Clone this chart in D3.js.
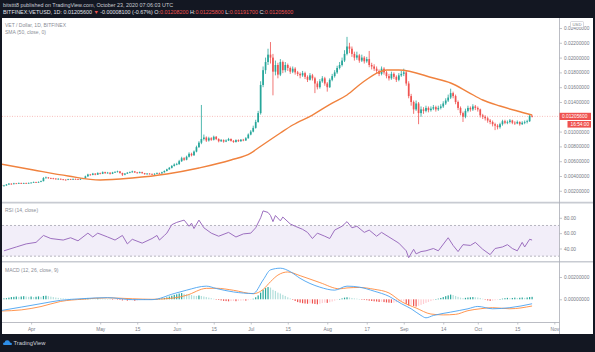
<!DOCTYPE html>
<html><head><meta charset="utf-8">
<script src="https://cdn.jsdelivr.net/npm/d3@7"></script>
<style>
html,body{margin:0;padding:0;background:#131722;}
svg{display:block;font-family:"Liberation Sans",Arial,sans-serif;}
</style></head><body>
<svg id="c" width="595" height="352"></svg>
<script>
// ---------- DATA (bar index 0 = first visible daily bar, 215 = Oct 23 2020) ----------
const firstOpen = 0.00280;
const lastOpen = 0.012082;
const closes = [
 .00265,.00272,.00285,.00296,.00290,.00300,.00298,.00305,.00298,.00303,
 .00300,.00306,.00310,.00318,.00312,.00320,.00330,.00372,.00380,.00372,
 .00368,.00365,.00358,.00362,.00355,.00350,.00348,.00356,.00352,.00360,
 .00358,.00352,.00362,.00368,.00395,.00420,.00415,.00432,.00418,.00440,
 .00430,.00452,.00438,.00445,.00430,.00448,.00455,.00462,.00440,.00418,
 .00432,.00445,.00450,.00462,.00448,.00440,.00452,.00438,.00425,.00432,
 .00428,.00420,.00430,.00440,.00435,.00450,.00468,.00490,.00510,.00535,
 .00555,.00560,.00600,.00640,.00620,.00660,.00700,.00680,.00730,.00790,
 .00850,.00900,.00920,.00880,.00910,.00890,.00930,.00900,.00870,.00885,
 .00865,.00880,.00900,.00875,.00860,.00885,.00870,.00890,.00880,.00910,
 .00960,.01000,.01050,.01130,.01250,.01630,.01830,.01940,.02040,.02000,
 .01810,.01900,.01770,.01940,.01830,.01900,.01860,.01810,.01850,.01800,
 .01780,.01760,.01790,.01740,.01700,.01760,.01720,.01650,.01600,.01680,
 .01720,.01650,.01600,.01700,.01750,.01800,.01860,.01900,.01960,.02050,
 .02150,.02120,.02050,.02000,.02030,.01960,.02000,.01950,.01980,.01900,
 .01880,.01850,.01820,.01780,.01850,.01800,.01750,.01720,.01780,.01740,
 .01700,.01760,.01780,.01800,.01650,.01480,.01400,.01300,.01380,.01250,
 .01300,.01280,.01320,.01290,.01310,.01330,.01300,.01320,.01340,.01380,
 .01420,.01460,.01520,.01480,.01400,.01320,.01250,.01200,.01280,.01320,
 .01300,.01340,.01320,.01300,.01220,.01200,.01180,.01150,.01130,.01100,
 .01080,.01060,.01100,.01140,.01120,.01130,.01150,.01120,.01110,.01130,
 .01100,.01120,.01130,.01140,.01214,.012056];
const highs = [
 .00290,.00280,.00292,.00305,.00302,.00308,.00306,.00312,.00310,.00309,
 .00310,.00312,.00316,.00325,.00322,.00326,.00338,.00385,.00392,.00386,
 .00378,.00375,.00370,.00370,.00366,.00360,.00356,.00362,.00362,.00366,
 .00366,.00362,.00368,.00375,.00405,.00430,.00428,.00442,.00438,.00450,
 .00446,.00462,.00458,.00455,.00450,.00456,.00465,.00472,.00468,.00445,
 .00440,.00452,.00460,.00472,.00468,.00455,.00460,.00458,.00442,.00440,
 .00438,.00434,.00436,.00448,.00446,.00458,.00476,.00498,.00522,.00548,
 .00570,.00578,.00618,.00660,.00655,.00675,.00720,.00715,.00745,.00810,
 .00870,.01360,.00960,.00935,.00930,.00925,.00945,.00940,.00910,.00900,
 .00895,.00895,.00915,.00908,.00885,.00895,.00895,.00900,.00902,.00925,
 .00975,.01020,.01080,.01160,.01280,.01680,.01880,.02000,.02120,.02210,
 .02050,.01960,.01930,.01980,.01960,.01940,.01920,.01880,.01880,.01870,
 .01820,.01800,.01820,.01810,.01760,.01790,.01780,.01740,.01680,.01710,
 .01750,.01740,.01670,.01720,.01780,.01830,.01890,.01940,.02000,.02100,
 .02280,.02200,.02150,.02080,.02080,.02050,.02040,.02020,.02010,.02090,
 .01930,.01910,.01880,.01840,.01880,.01870,.01820,.01780,.01810,.01800,
 .01760,.01790,.01820,.01850,.01820,.01680,.01510,.01420,.01420,.01400,
 .01340,.01330,.01350,.01340,.01340,.01360,.01350,.01350,.01370,.01410,
 .01450,.01500,.01580,.01540,.01500,.01420,.01340,.01270,.01310,.01350,
 .01340,.01370,.01360,.01340,.01310,.01240,.01220,.01200,.01170,.01150,
 .01120,.01100,.01120,.01160,.01160,.01150,.01170,.01160,.01140,.01150,
 .01140,.01140,.01150,.01160,.01230,.012258];
const lows = [
 .00255,.00258,.00268,.00280,.00282,.00286,.00292,.00293,.00292,.00294,
 .00295,.00296,.00302,.00306,.00306,.00308,.00316,.00328,.00365,.00362,
 .00358,.00356,.00350,.00352,.00348,.00342,.00340,.00344,.00346,.00348,
 .00352,.00346,.00348,.00358,.00365,.00390,.00405,.00410,.00410,.00414,
 .00422,.00426,.00430,.00432,.00420,.00426,.00442,.00448,.00432,.00400,
 .00410,.00428,.00438,.00446,.00442,.00432,.00436,.00432,.00418,.00420,
 .00420,.00414,.00416,.00426,.00428,.00432,.00446,.00462,.00484,.00502,
 .00528,.00545,.00552,.00590,.00605,.00612,.00650,.00665,.00672,.00720,
 .00780,.00830,.00880,.00860,.00865,.00875,.00880,.00885,.00855,.00860,
 .00850,.00858,.00872,.00865,.00848,.00852,.00860,.00862,.00870,.00875,
 .00905,.00950,.00990,.01040,.01120,.01230,.01600,.01780,.01900,.01920,
 .01490,.01760,.01720,.01750,.01790,.01800,.01820,.01780,.01790,.01770,
 .01750,.01720,.01740,.01710,.01670,.01690,.01690,.01520,.01570,.01580,
 .01660,.01620,.01540,.01590,.01680,.01730,.01780,.01840,.01880,.01940,
 .02030,.02060,.02010,.01960,.01970,.01930,.01940,.01920,.01930,.01870,
 .01840,.01820,.01790,.01750,.01760,.01770,.01720,.01690,.01700,.01710,
 .01670,.01680,.01740,.01750,.01620,.01450,.01350,.01240,.01280,.01100,
 .01200,.01240,.01260,.01260,.01270,.01290,.01270,.01280,.01300,.01320,
 .01360,.01400,.01440,.01450,.01370,.01290,.01220,.01130,.01180,.01260,
 .01270,.01280,.01290,.01270,.01190,.01170,.01150,.01120,.01100,.01070,
 .01020,.01030,.01040,.01080,.01100,.01100,.01110,.01100,.01090,.01100,
 .01080,.01090,.01100,.01110,.01130,.011917];

// SMA(50)
const smaBars   = [0,13,27,40,53,67,80,93,101,104,113,118,126,134,140,146,153,156,161,175,182,189,195,202,209,215];
const smaValues = [.00560,.00481,.00400,.00346,.00373,.00427,.00508,.00616,.00710,.00778,.00981,.01089,.01224,.01386,.01495,.01657,.01805,.01832,.01832,.01724,.01657,.01535,.01427,.01346,.01278,.01224];

// RSI(14)
const rsiBars = [1,6,10,14,17,20,25,28,31,35,37,39,43,46,49,51,53,57,61,63,64,66,67,69,71,74,76,77,78,80,82,85,88,92,95,98,101,103,105,106,108,109,110,111,113,114,117,119,122,124,126,128,131,133,135,138,140,142,144,147,149,152,154,157,159,161,164,165,167,168,170,172,175,177,181,183,185,187,190,192,195,198,200,203,205,207,209,211,212,214,215];
const rsiValues = [37,42,46,48,57,53,51,54,50,60,55,60,55,51,57,46,52,47,53,57,51,57,60,71,74,77,69,73,66,77,67,60,56,61,55,59,60,67,80,89,87,83,75,83,76,81,72,69,65,61,53,60,56,53,64,69,75,67,69,61,64,56,61,55,51,47,37,28,39,33,36,37,40,37,54,44,36,45,44,48,39,32,40,42,45,40,37,48,42,52,51];

// MACD(12,26,9)
const macdBars   = [0,8,16,24,33,43,53,61,70,75,83,87,94,102,106,109,113,117,121,129,135,140,145,151,157,162,166,170,172,175,182,189,193,199,206,215];
const macdValues = [-.00100,-.00070,-.00039,-.00009,.00006,.00015,-.00003,-.00003,.00052,.00082,.00118,.00097,.00066,.00052,.00173,.00264,.00279,.00248,.00188,.00109,.00082,.00118,.00109,.00073,.00027,-.00039,-.00085,-.00145,-.00166,-.00145,-.00115,-.00085,-.00064,-.00085,-.00075,-.00040];
const signalBars   = [0,8,16,24,33,43,53,61,70,75,83,87,94,102,106,109,112,116,121,129,137,140,145,151,157,162,168,174,179,184,189,194,199,206,215];
const signalValues = [-.00105,-.00095,-.00065,-.00019,.00001,.00013,.00005,.00000,.00012,.00036,.00098,.00099,.00081,.00050,.00088,.00158,.00217,.00245,.00212,.00150,.00094,.00102,.00106,.00090,.00057,-.00020,-.00078,-.00132,-.00140,-.00135,-.00102,-.00085,-.00075,-.00085,-.00060];
// histogram, one value per bar, in units of 1e-4
const histE4 = [
 0.5,0.8,1.0,1.5,2.0,2.2,2.5,2.2,2.5,2.8,
 2.5,2.2,2.5,2.0,2.3,2.6,2.2,3.0,3.2,2.8,
 2.4,2.0,1.6,1.3,1.0,0.8,0.6,0.5,0.4,0.3,
 0.2,0.1,0.3,0.5,0.9,1.2,1.0,0.9,0.7,0.8,
 0.6,0.5,0.3,0.2,0.0,-0.2,-0.1,-0.2,-0.6,-1.0,
 -0.8,-1.2,-1.0,-0.8,-1.3,-1.0,-0.7,-0.5,-0.6,-0.4,
 -0.5,-0.3,-0.2,0.2,0.4,0.8,1.2,1.8,2.5,3.2,
 4.0,4.5,5.2,5.6,5.0,4.6,4.2,3.8,3.2,3.0,
 3.4,3.0,2.5,2.0,1.5,1.0,0.5,-0.2,-0.6,-1.0,
 -1.4,-1.6,-1.8,-1.6,-1.5,-1.7,-1.4,-1.2,-1.0,-1.2,
 -0.8,-0.4,0.5,1.8,3.5,6.0,8.5,10.0,11.0,10.5,
 8.5,7.5,6.0,5.2,4.0,3.0,1.8,0.8,-0.5,-1.5,
 -2.5,-3.0,-3.5,-3.8,-4.0,-3.6,-3.8,-4.2,-4.5,-4.0,
 -3.4,-3.0,-3.2,-2.6,-2.0,-1.2,-0.5,0.3,0.8,1.5,
 1.8,1.6,1.2,0.8,0.6,0.2,-0.3,-0.6,-0.8,-1.2,
 -1.5,-1.8,-2.0,-2.4,-2.2,-2.5,-2.8,-3.0,-3.2,-3.0,
 -2.6,-2.2,-2.0,-1.8,-4.0,-5.5,-5.0,-6.0,-6.5,-5.8,
 -5.0,-4.2,-3.2,-2.4,-1.6,-0.8,0.0,0.6,1.2,2.0,
 2.8,3.5,4.2,3.8,3.0,2.2,1.5,1.0,1.3,1.6,
 1.8,2.0,1.8,1.6,1.2,0.5,-0.3,-1.0,-1.4,-1.2,
 -0.8,-0.4,0.2,0.6,1.0,1.3,1.0,1.2,1.5,1.2,
 1.4,1.6,1.3,1.6,2.0,2.2];

// axes
const timeTickBars   = [12,40,55,71,86,101,116,132,148,163,179,193,209,224];
const timeTickLabels = ["Apr","May","15","Jun","15","Jul","15","Aug","17","Sep","14","Oct","15","Nov"];
const priceTicks = [0.002,0.004,0.006,0.008,0.010,0.014,0.016,0.018,0.020,0.022,0.024];
const rsiTicks = [80,60,40];
const macdTicks = [0.002,0];
const lastPrice = 0.012056;

// ---------- DRAW ----------
const W=595,H=352;
const UP="#26a69a", DOWN="#ef5350", GRAY="#787b86";
const svg=d3.select("#c");
svg.append("rect").attr("width",W).attr("height",H).attr("fill","#131722");
svg.append("rect").attr("x",2).attr("y",18).attr("width",591).attr("height",316).attr("fill","#ffffff");

const AX=559.5; // price axis x
const x=d3.scaleLinear().domain([0,224]).range([1.5,554.3]);
const yP=d3.scaleLinear().domain([0.002,0.024]).range([190.8,28]);
const yR=d3.scaleLinear().domain([40,80]).range([248.5,217.8]);
const yM=d3.scaleLinear().domain([0,0.002]).range([299.3,277]);

const defs=svg.append("defs");
function clip(id,y0,y1){defs.append("clipPath").attr("id",id).append("rect").attr("x",2).attr("y",y0).attr("width",AX-2).attr("height",y1-y0);}
clip("cp",18,202); clip("cr",203.5,261); clip("cm",262.7,322);

// pane separators
[202.6,261.8].forEach(yy=>svg.append("line").attr("x1",2).attr("x2",593).attr("y1",yy).attr("y2",yy).attr("stroke","#c8cbd2").attr("stroke-width",1.6));

// ----- price pane -----
const gp=svg.append("g").attr("clip-path","url(#cp)");
gp.append("line").attr("x1",2).attr("x2",AX).attr("y1",yP(lastPrice)).attr("y2",yP(lastPrice))
  .attr("stroke","#ef5350").attr("stroke-opacity",0.55).attr("stroke-width",0.7).attr("stroke-dasharray","1,1.5");

const bars=closes.map((c,i)=>({i,c,h:highs[i],l:lows[i],o: i===0?firstOpen:(i===closes.length-1?lastOpen:closes[i-1])}));
const cg=gp.append("g");
cg.selectAll("line.w").data(bars).join("line").attr("class","w")
  .attr("x1",d=>x(d.i)).attr("x2",d=>x(d.i)).attr("y1",d=>yP(d.h)).attr("y2",d=>yP(d.l))
  .attr("stroke",d=>d.c>=d.o?UP:DOWN).attr("stroke-width",0.8);
cg.selectAll("rect.b").data(bars).join("rect").attr("class","b")
  .attr("x",d=>x(d.i)-0.85).attr("width",1.7)
  .attr("y",d=>yP(Math.max(d.o,d.c))).attr("height",d=>Math.max(0.7,Math.abs(yP(d.o)-yP(d.c))))
  .attr("fill",d=>d.c>=d.o?UP:DOWN);

const smaData=smaBars.map((b,k)=>[b,smaValues[k]]);
gp.append("path").datum(smaData).attr("fill","none").attr("stroke","#f0823e").attr("stroke-width",1.4)
  .attr("d",d3.line().x(d=>x(d[0])).y(d=>yP(d[1])).curve(d3.curveMonotoneX));

// ----- RSI pane -----
const gr=svg.append("g").attr("clip-path","url(#cr)");
gr.append("rect").attr("x",2).attr("width",AX-2).attr("y",yR(70)).attr("height",yR(30)-yR(70)).attr("fill","#7e57c2").attr("fill-opacity",0.1);
[70,30].forEach(v=>gr.append("line").attr("x1",2).attr("x2",AX).attr("y1",yR(v)).attr("y2",yR(v))
  .attr("stroke","#9a9aa6").attr("stroke-width",0.7).attr("stroke-dasharray","2,2"));
const rsiData=rsiBars.map((b,k)=>[b,rsiValues[k]]);
gr.append("path").datum(rsiData).attr("fill","none").attr("stroke","#9c6fbf").attr("stroke-width",1)
  .attr("d",d3.line().x(d=>x(d[0])).y(d=>yR(d[1])));

// ----- MACD pane -----
const gm=svg.append("g").attr("clip-path","url(#cm)");
const hist=histE4.map((v,i)=>({i,v:v*1e-4,prev:i>0?histE4[i-1]*1e-4:v*1e-4}));
function hc(d){ if(d.v>=0) return d.v>=d.prev?"#26a69a":"#b2dfdb"; return d.v<d.prev?"#ef5350":"#ffcdd2"; }
gm.selectAll("rect.h").data(hist).join("rect").attr("class","h")
  .attr("x",d=>x(d.i)-0.6).attr("width",1.2)
  .attr("y",d=>Math.min(yM(d.v),yM(0))).attr("height",d=>Math.max(0.5,Math.abs(yM(d.v)-yM(0))))
  .attr("fill",hc);
const mLine=d3.line().x(d=>x(d[0])).y(d=>yM(d[1])).curve(d3.curveMonotoneX);
gm.append("path").datum(signalBars.map((b,k)=>[b,signalValues[k]])).attr("fill","none").attr("stroke","#ff8a3d").attr("stroke-width",0.9).attr("d",mLine);
gm.append("path").datum(macdBars.map((b,k)=>[b,macdValues[k]])).attr("fill","none").attr("stroke","#4aa3f0").attr("stroke-width",0.9).attr("d",mLine);

// ----- axes -----
svg.append("line").attr("x1",AX).attr("x2",AX).attr("y1",18).attr("y2",334).attr("stroke","#a9acb5").attr("stroke-width",0.8);
svg.append("line").attr("x1",2).attr("x2",AX).attr("y1",322.5).attr("y2",322.5).attr("stroke","#a9acb5").attr("stroke-width",0.8);

function yAxis(scale,ticks,fmt){
  const g=svg.append("g").attr("transform",`translate(${AX},0)`)
    .call(d3.axisRight(scale).tickValues(ticks).tickFormat(fmt).tickSize(2.5).tickPadding(2));
  g.select(".domain").remove();
  g.selectAll("line").attr("stroke","#a9acb5").attr("stroke-width",0.7);
  g.selectAll("text").attr("fill",GRAY).attr("font-size",4.8).attr("font-family","Liberation Sans, Arial, sans-serif");
}
yAxis(yP,priceTicks,d3.format(".8f"));
yAxis(yR,rsiTicks,d3.format(".2f"));
yAxis(yM,macdTicks,d3.format(".8f"));

const xa=svg.append("g").attr("transform","translate(0,322.5)")
  .call(d3.axisBottom(x).tickValues(timeTickBars).tickFormat((d,k)=>timeTickLabels[k]).tickSize(2).tickPadding(3));
xa.select(".domain").remove();
xa.selectAll("line").attr("stroke","#a9acb5").attr("stroke-width",0.7);
xa.selectAll("text").attr("fill",GRAY).attr("font-size",4.8).attr("font-family","Liberation Sans, Arial, sans-serif");

// last price label + countdown
const py=yP(lastPrice);
svg.append("rect").attr("x",AX).attr("y",py-3.6).attr("width",31.5).attr("height",7.2).attr("fill","#ef5350");
svg.append("text").attr("x",AX+2.5).attr("y",py+1.7).attr("fill","#fff").attr("font-size",4.8).text(d3.format(".8f")(lastPrice));
svg.append("rect").attr("x",567.5).attr("y",py+4.6).attr("width",23.5).attr("height",6.6).attr("fill","#ef5350");
svg.append("text").attr("x",570.5).attr("y",py+9.4).attr("fill","#fff").attr("font-size",4.8).text("16:54:00");
// USD box
svg.append("rect").attr("x",570.5).attr("y",21.5).attr("width",13).attr("height",6).attr("rx",1).attr("fill","#fff").attr("stroke","#b2b5be").attr("stroke-width",0.5);
svg.append("text").attr("x",577).attr("y",26.2).attr("text-anchor","middle").attr("fill",GRAY).attr("font-size",4.2).text("USD");

// legends
const lg=(t,yy)=>svg.append("text").attr("x",5).attr("y",yy).attr("fill","#8a8d96").attr("font-size",5).text(t);
lg("VET / Dollar, 1D, BITFINEX",26.5);
lg("SMA (50, close, 0)",33.5);
lg("RSI (14, close)",211.5);
lg("MACD (12, 26, close, 9)",271.5);

// header
svg.append("text").attr("x",3).attr("y",6.5).attr("fill","#c9ccd4").attr("font-size",5.4)
  .text("bitsttt8 published on TradingView.com, October 23, 2020 07:06:03 UTC");
const hdr=[["BITFINEX:VETUSD, 1D: 0.01205600 ","#e0e3eb"],["▼ ","#ef5350"],["-0.00008100 (-0.67%) ","#e0e3eb"],
 ["O:","#e0e3eb"],["0.01208200 ","#ef5350"],["H:","#e0e3eb"],["0.01225800 ","#ef5350"],["L:","#e0e3eb"],["0.01191700 ","#ef5350"],["C:","#e0e3eb"],["0.01205600","#ef5350"]];
const ht=svg.append("text").attr("x",3).attr("y",14).attr("font-size",5.4);
hdr.forEach(([t,c])=>ht.append("tspan").attr("fill",c).text(t));

// footer logo
const lgG=svg.append("g").attr("transform","translate(3,339)");
lgG.append("path").attr("d","M1,6 Q0,6 0,4.8 Q0,3.4 1.6,3.4 Q2,1 4.4,1.2 Q6.6,1.2 7,3.4 Q9,3.4 9,5 Q9,6 8,6 Z").attr("fill","#2e8ee8");
svg.append("text").attr("x",13.5).attr("y",345).attr("fill","#d1d4dc").attr("font-size",5.8).text("TradingView");
</script>
</body></html>
